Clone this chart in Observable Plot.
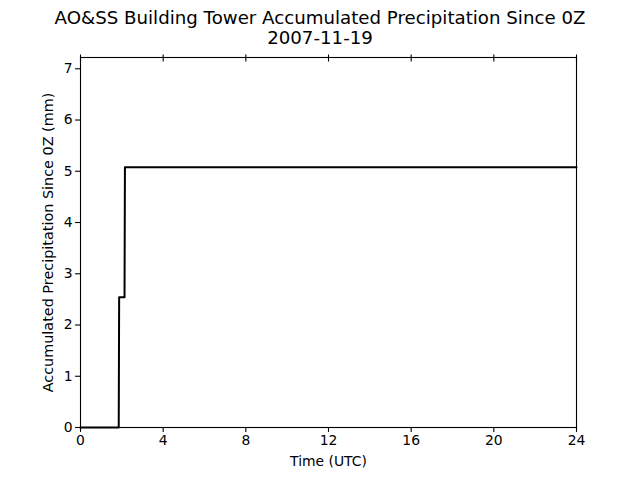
<!DOCTYPE html>
<html><head><meta charset="utf-8">
<script src="https://cdn.jsdelivr.net/npm/d3@7"></script>
<script src="https://cdn.jsdelivr.net/npm/@observablehq/plot@0.6"></script>
<style>
body{margin:0;background:#fff;font-family:"DejaVu Sans",sans-serif;}
#title{width:640px;height:47px;text-align:center;font-size:18.2px;line-height:20px;padding-top:8px;box-sizing:border-box;color:#000;}
g[aria-label="y-axis label"]{font-size:14.4px;}
</style></head><body>
<div id="title">AO&amp;SS Building Tower Accumulated Precipitation Since 0Z<br>2007-11-19</div>
<div id="chart"></div>
<script>
const timesUTC = [0, 1.85, 1.87, 2.13, 2.15, 24];
const precipMM = [0, 0, 2.54, 2.54, 5.08, 5.08];
const xTicks = [0, 4, 8, 12, 16, 20, 24];
const yTicks = [0, 1, 2, 3, 4, 5, 6, 7];
const data = timesUTC.map((t, i) => ({t, p: precipMM[i]}));

const chart = Plot.plot({
  width: 640, height: 433,
  marginLeft: 80, marginRight: 64, marginTop: 10, marginBottom: 53,
  style: {fontFamily: "DejaVu Sans", fontSize: "13.9px", color: "#000", background: "#fff"},
  x: {domain: [0, 24]},
  y: {domain: [0, 7.22]},
  marks: [
    Plot.line(data, {x: "t", y: "p", stroke: "black", strokeWidth: 2}),
    Plot.frame({stroke: "black", strokeWidth: 1.1}),
    Plot.axisX({ticks: xTicks, tickSize: 4.9, tickPadding: 3, strokeWidth: 1.1, label: "Time (UTC)", labelAnchor: "center", labelArrow: "none", labelOffset: 38, fontSize: 13.9}),
    Plot.axisX({anchor: "top", ticks: xTicks, tickSize: 7, dy: 3.5, strokeWidth: 1.1, tickFormat: () => "", label: null}),
    Plot.axisY({ticks: yTicks, tickSize: 4.9, tickPadding: 3, strokeWidth: 1.1, label: "Accumulated Precipitation Since 0Z (mm)", labelAnchor: "center", labelArrow: "none", labelOffset: 38, fontSize: 13.9})
  ]
});
document.getElementById("chart").appendChild(chart);
</script>
</body></html>
